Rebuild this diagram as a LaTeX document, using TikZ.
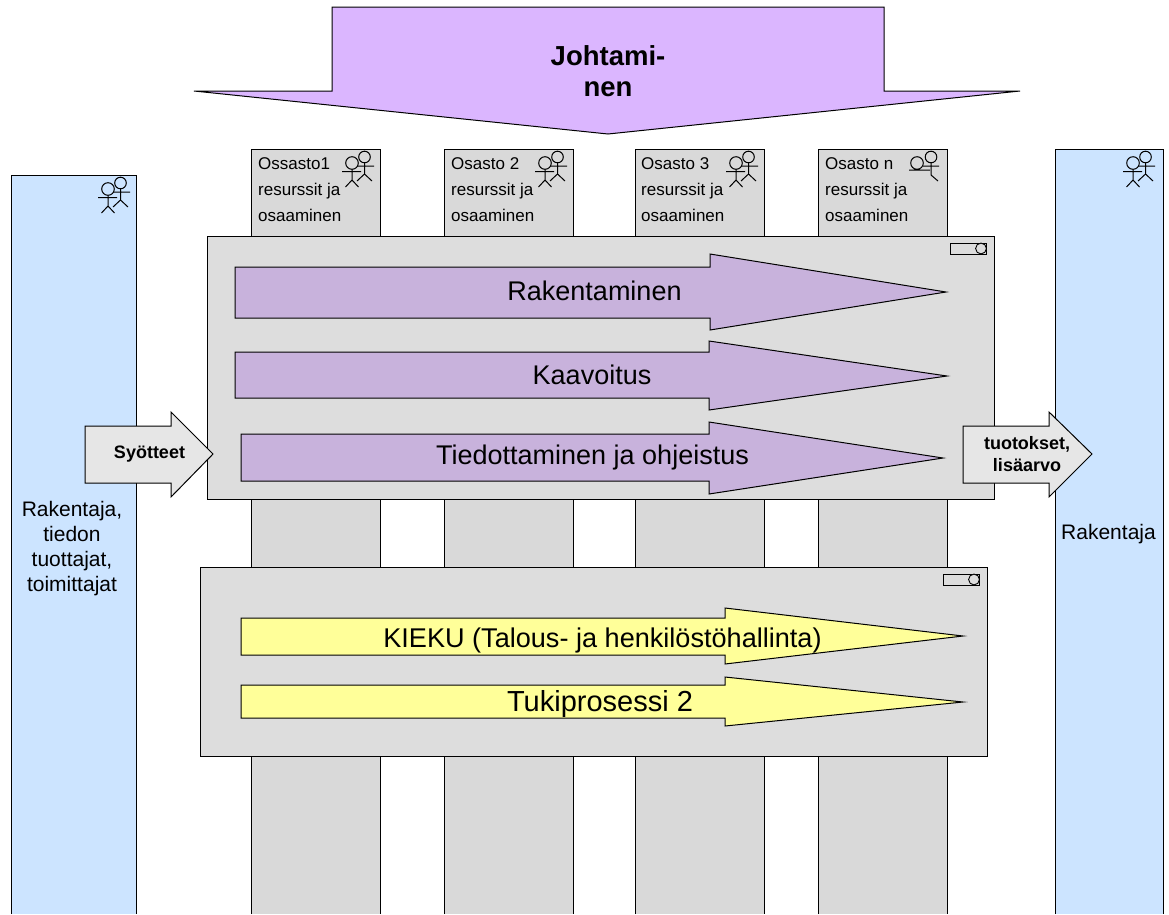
\documentclass[tikz,border=0pt]{standalone}
\usepackage{fontspec}
\setmainfont{Liberation Sans}
\definecolor{colgrey}{HTML}{D9D9D9}
\definecolor{boxgrey}{HTML}{DDDDDD}
\definecolor{stakeblue}{HTML}{CCE4FF}
\definecolor{leadpurple}{HTML}{DBB6FF}
\definecolor{procpurple}{HTML}{C8B2DC}
\definecolor{supyellow}{HTML}{FFFF99}
\definecolor{flowgrey}{HTML}{E6E6E6}
\newcommand{\fsz}[2]{\fontsize{#1}{#2}\selectfont}
\tikzset{
  x=1pt,y=-1pt,
  shape line/.style={draw=black,line width=1pt,line join=miter},
  big label/.style={font=\fsz{27}{30},inner sep=0pt,text=black},
  col label/.style={font=\fsz{17}{26},inner sep=0pt,anchor=west,align=left},
  side label/.style={font=\fsz{21}{25},inner sep=0pt,align=center},
  flow label/.style={font=\bfseries\fsz{18}{22},inner sep=0pt,align=center},
  actors/.pic={
    \draw[line width=1pt] (0,0) circle[radius=6.3];
    \draw[line width=1pt] (-10,8.5) -- (9,8.5) (0,6.3) -- (0,17) (-6.5,24) -- (0,17) -- (6.5,24);
    \draw[line width=1pt] (12.5,-6) circle[radius=5.8];
    \draw[line width=1pt] (5,3) -- (22,3) (12.5,-.2) -- (12.5,11) (5,18) -- (12.5,11) -- (20,18);
  },
  status/.pic={
    \draw[line width=.9pt,fill=boxgrey] (0,0) rectangle (36,11);
    \draw[line width=.9pt,fill=boxgrey] (31,5.5) circle[radius=5.4];
  }
}
\newcommand{\column}[2]{%
  \fill[colgrey] (#1,149) rectangle (#2,914);
  \draw[line width=1pt] (#1,914) -- (#1,149) -- (#2,149) -- (#2,914);
}
\begin{document}
\begin{tikzpicture}
\useasboundingbox (0,0) rectangle (1169,914);
\fill[white] (0,0) rectangle (1169,914);
% stakeholders
\fill[stakeblue] (11,175) rectangle (136,914);
\draw[line width=1pt] (11,914) -- (11,175) -- (136,175) -- (136,914);
\fill[stakeblue] (1055,149) rectangle (1163,914);
\draw[line width=1pt] (1055,914) -- (1055,149) -- (1163,149) -- (1163,914);
% columns
\column{251}{380}
\column{444}{573}
\column{635}{764}
\column{818}{947}
% management arrow
\draw[shape line,fill=leadpurple] (332,7) -- (884,7) -- (884,91) -- (1020,91) -- (608,134) -- (194,91) -- (332,91) -- cycle;
\node[font=\bfseries\fsz{27.5}{31},align=center,inner sep=0pt] (johto) at (608,71) {Johtami-\\nen};
% core box
\draw[shape line,fill=boxgrey] (207,236) rectangle (994,499);
\pic at (950,243) {status};
\draw[shape line,fill=procpurple] (235,267) -- (710,267) -- (710,254) -- (946,292) -- (710,330) -- (710,318) -- (235,318) -- cycle;
\draw[shape line,fill=procpurple] (235,352) -- (709,352) -- (709,341) -- (947,376) -- (709,410) -- (709,398) -- (235,398) -- cycle;
\draw[shape line,fill=procpurple] (241,434) -- (709,434) -- (709,422) -- (943,458) -- (709,494) -- (709,481) -- (241,481) -- cycle;
\node[big label] (rak) at (594.5,291) {Rakentaminen};
\node[big label] (kaa) at (592,375) {Kaavoitus};
\node[big label] (tie) at (592.5,458) {Tiedottaminen ja ohjeistus};
% support box
\draw[shape line,fill=boxgrey] (200,567) rectangle (987,756);
\pic at (943,574) {status};
\draw[shape line,fill=supyellow] (241,618) -- (725,618) -- (725,608) -- (963,636) -- (725,664) -- (725,655) -- (241,655) -- cycle;
\draw[shape line,fill=supyellow] (241,685) -- (725,685) -- (725,677) -- (963,702) -- (725,726) -- (725,718) -- (241,718) -- cycle;
\node[big label,font=\fsz{27.1}{30}] (kieku) at (602.5,640) {KIEKU (Talous- ja henkilöstöhallinta)};
\node[big label,font=\fsz{29}{30}] (tuki) at (600,704) {Tukiprosessi 2};
% flows
\draw[shape line,fill=flowgrey] (85,426) -- (171,426) -- (171,412) -- (213,454) -- (171,497) -- (171,483) -- (85,483) -- cycle;
\node[flow label] (syo) at (149.5,454) {Syötteet};
\draw[shape line,fill=flowgrey] (963,426) -- (1049,426) -- (1049,412) -- (1092,454) -- (1049,497) -- (1049,483) -- (963,483) -- cycle;
\node[flow label] (tuo) at (1027,454) {tuotokset,\\lisäarvo};
% column labels
\node[col label] (o1) at (258,190) {Ossasto1\\resurssit ja\\osaaminen};
\node[col label] (o2) at (451,190) {Osasto 2\\resurssit ja\\osaaminen};
\node[col label] (o3) at (641,190) {Osasto 3\\resurssit ja\\osaaminen};
\node[col label] (on) at (825,190) {Osasto n\\resurssit ja\\osaaminen};
\node[side label] (left) at (72,549) {Rakentaja,\\tiedon\\tuottajat,\\toimittajat};
\node[side label] (right) at (1108.5,534) {Rakentaja};
% actors
\pic at (352,163) {actors};
\pic at (545,163) {actors};
\pic at (736,163) {actors};
\pic at (1133,163) {actors};
\pic at (108,189) {actors};
\draw[line width=1pt] (917,163) circle[radius=6.3] (909,170) -- (930,170);
\draw[line width=1pt] (931,157) circle[radius=5.8] (923,166) -- (939,166) (931,162.8) -- (931,175) -- (938,181);
\end{tikzpicture}
\end{document}
